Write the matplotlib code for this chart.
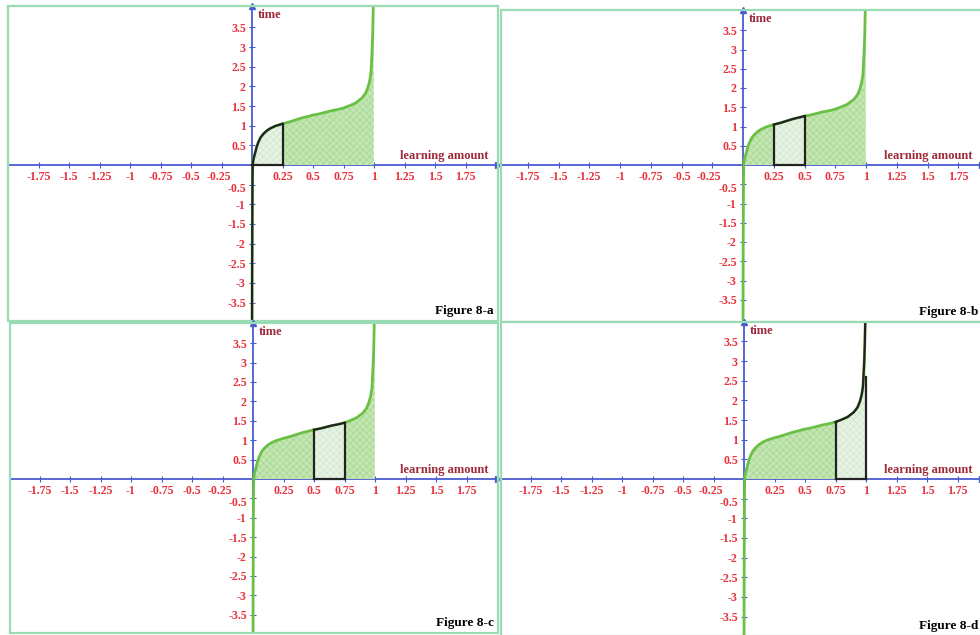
import numpy as np
import matplotlib
matplotlib.use("Agg")
import matplotlib.pyplot as plt
import matplotlib.transforms as mtrans
from matplotlib.patches import Rectangle

# ---- data ----
curve_x = [0.0003, 0.0008, 0.0015, 0.0025, 0.004, 0.006, 0.01, 0.018, 0.027, 0.038,
           0.052, 0.07, 0.093, 0.12, 0.149, 0.19, 0.25, 0.3, 0.35, 0.4, 0.45, 0.5,
           0.55, 0.6, 0.65, 0.7, 0.75, 0.8, 0.85, 0.9, 0.93, 0.95, 0.965, 0.975,
           0.985, 0.99, 0.995, 0.998]
curve_y = [-4.3, -3.2, -2.3, -1.5, -0.4, 0.0, 0.12, 0.22, 0.32, 0.46,
           0.58, 0.70, 0.79, 0.87, 0.93, 0.99, 1.05, 1.09, 1.14, 1.19, 1.23, 1.27,
           1.30, 1.34, 1.38, 1.41, 1.45, 1.51, 1.58, 1.70, 1.82, 1.97, 2.15, 2.35,
           2.95, 3.4, 4.2, 5.5]

strips = [(0.0, 0.25), (0.25, 0.5), (0.5, 0.75), (0.75, 1.0)]
panel_names = ["Figure 8-a", "Figure 8-b", "Figure 8-c", "Figure 8-d"]

x_ticks = [-1.75, -1.5, -1.25, -1, -0.75, -0.5, -0.25, 0.25, 0.5, 0.75, 1, 1.25, 1.5, 1.75]
x_tick_labels = ["-1.75", "-1.5", "-1.25", "-1", "-0.75", "-0.5", "-0.25",
                 "0.25", "0.5", "0.75", "1", "1.25", "1.5", "1.75"]
y_ticks = [-3.5, -3, -2.5, -2, -1.5, -1, -0.5, 0.5, 1, 1.5, 2, 2.5, 3, 3.5]
y_tick_labels = ["-3.5", "-3", "-2.5", "-2", "-1.5", "-1", "-0.5",
                 "0.5", "1", "1.5", "2", "2.5", "3", "3.5"]

x_label = "learning amount"
y_label = "time"

# ---- layout (pixels): frame box, origin, unit sizes ----
W, H = 980, 635
panels = [
    dict(box=(8, 6, 498, 321), origin=(252, 165), ux=122.0, uy=39.3),
    dict(box=(501, 10, 982, 322), origin=(743, 165), ux=123.0, uy=38.5),
    dict(box=(10, 323, 498, 633), origin=(253, 479), ux=122.0, uy=38.8),
    dict(box=(501, 322, 982, 636), origin=(744, 479), ux=122.0, uy=39.3),
]

BLUE = "#4a5bd0"
GREEN = "#6abf45"
FILL = "#c4e6b2"
HATCH_C = "#9fd48a"
STRIP = "#e6f2e4"
FRAME = "#9adbb4"
RED = "#e8323c"
DARKRED = "#9e2a3a"

plt.rcParams['hatch.linewidth'] = 0.4
serif = ["Liberation Serif", "DejaVu Serif"]

fig = plt.figure(figsize=(W / 100, H / 100), dpi=100)
fig.patch.set_facecolor("white")

cx = np.array(curve_x)
cy = np.array(curve_y)

for p, (a, b), name in zip(panels, strips, panel_names):
    l, t, r, bt = p["box"]
    ox, oy = p["origin"]
    ax = fig.add_axes([l / W, 1 - bt / H, (r - l) / W, (bt - t) / H])
    ax.set_xlim((l - ox) / p["ux"], (r - ox) / p["ux"])
    ax.set_ylim((oy - bt) / p["uy"], (oy - t) / p["uy"])
    ax.set_facecolor("white")

    # frame
    for s in ["top", "right"]:
        ax.spines[s].set_visible(False)
    ax.add_patch(Rectangle((0, 0), 1, 1, transform=ax.transAxes, fill=False,
                           edgecolor=FRAME, lw=1.6, clip_on=False, zorder=10))

    # axis lines through origin
    ax.spines["left"].set_position(("data", 0))
    ax.spines["bottom"].set_position(("data", 0))
    for s in ["left", "bottom"]:
        ax.spines[s].set_color(BLUE)
        ax.spines[s].set_linewidth(1.3)
        ax.spines[s].set_zorder(1)
    ax.plot(1, 0, ">", color=BLUE, ms=4, transform=ax.get_yaxis_transform(),
            clip_on=False, zorder=3)
    ax.plot(0, 1, "^", color=BLUE, ms=4, transform=ax.get_xaxis_transform(),
            clip_on=False, zorder=3)

    ax.set_xticks(x_ticks)
    ax.set_xticklabels(x_tick_labels)
    ax.set_yticks(y_ticks)
    ax.set_yticklabels(y_tick_labels)
    ax.tick_params(direction="inout", length=5, width=0.8, color=BLUE,
                   labelcolor=RED, labelsize=8.6, pad=2)
    for lab in ax.get_xticklabels() + ax.get_yticklabels():
        lab.set_fontfamily(serif)
        lab.set_fontweight("bold")
    # nudge the two crowded labels near the origin apart
    for lab in ax.get_xticklabels():
        if lab.get_text() == "-0.25":
            lab.set_transform(lab.get_transform() +
                              mtrans.ScaledTranslation(-3 / 100, 0, fig.dpi_scale_trans))
    for lab in ax.get_yticklabels():
        if lab.get_text() == "-0.5":
            lab.set_transform(lab.get_transform() +
                              mtrans.ScaledTranslation(0, -3 / 100, fig.dpi_scale_trans))

    # whole area under the curve between 0 and 1
    pos = np.clip(cy, 0, None)
    ax.fill_between(cx, 0, pos, where=cy >= 0, facecolor=FILL, edgecolor=HATCH_C,
                    hatch="xxxxx", linewidth=0, zorder=2, interpolate=False)
    # highlighted strip
    m = (cx >= a) & (cx <= b) & (cy >= 0)
    ax.fill_between(cx[m], 0, pos[m], facecolor=STRIP, edgecolor="#cde6c6",
                    hatch="xxxxx", linewidth=0, zorder=3)

    # green curve
    ax.plot(cx, cy, color=GREEN, lw=2.0, zorder=4, solid_capstyle="round")
    # black outline of the strip
    if a == 0:
        mk = cx <= b
    else:
        mk = (cx >= a) & (cx <= b)
    ax.plot(cx[mk], cy[mk], color="#222222", lw=1.6, zorder=5)
    ya = np.interp(a, cx, cy) if a > 0 else 0
    yb = cy[np.argmin(np.abs(cx - b))] if b < 1 else 2.6
    if a > 0:
        ax.plot([a, a], [0, ya], color="#222222", lw=1.6, zorder=5)
    ax.plot([b, b], [0, yb], color="#222222", lw=1.6, zorder=5)
    ax.plot([a, b], [0, 0], color="#222222", lw=1.6, zorder=5)

    # labels
    ax.annotate(x_label, xy=(1, 0), xycoords=ax.get_yaxis_transform(),
                xytext=(-7, 2.5), textcoords="offset points", ha="right", va="bottom",
                color=DARKRED, fontsize=9, fontweight="bold", family=serif, zorder=6)
    ax.annotate(y_label, xy=(0, 1), xycoords=ax.get_xaxis_transform(),
                xytext=(4, -2.5), textcoords="offset points", ha="left", va="top",
                color=DARKRED, fontsize=9, fontweight="bold", family=serif, zorder=6)
    ax.text(0.992, 0.012, name, transform=ax.transAxes, ha="right", va="bottom",
            color="black", fontsize=9.5, fontweight="bold", family=serif, zorder=6)

fig.savefig("out.png", dpi=100, facecolor="white")
